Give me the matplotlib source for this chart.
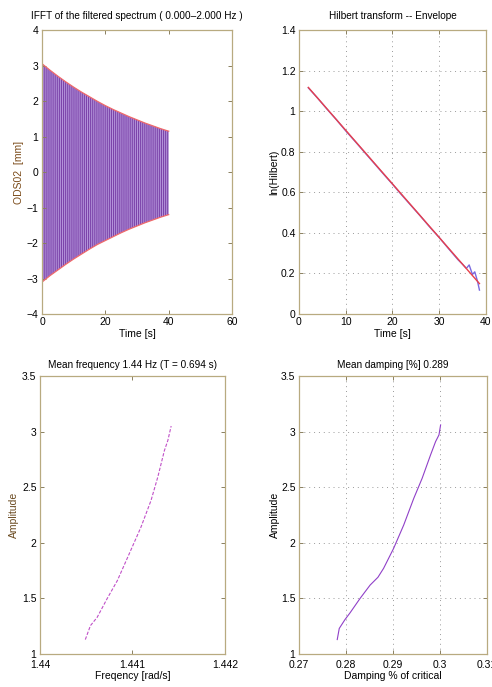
import numpy as np
import matplotlib
matplotlib.use("Agg")
import matplotlib.pyplot as plt

plt.rcParams['font.family'] = ['Liberation Sans', 'DejaVu Sans']
plt.rcParams['font.size'] = 7.5
plt.rcParams['hatch.linewidth'] = 0.8

# --- data ---
# envelope of the filtered signal (upper / lower)
env_t = [0, 2.5, 5, 7.5, 10, 12.5, 15, 17.5, 20, 22.5, 25, 27.5, 30, 32.5, 35, 37.5, 40]
env_up = [3.05, 2.87, 2.70, 2.54, 2.39, 2.25, 2.12, 1.99, 1.87, 1.76, 1.66, 1.56,
          1.47, 1.38, 1.30, 1.22, 1.15]
env_lo = [-3.10, -2.92, -2.76, -2.60, -2.45, -2.31, -2.17, -2.04, -1.93, -1.82, -1.71,
          -1.61, -1.52, -1.43, -1.35, -1.27, -1.20]

# ln of hilbert envelope
hil_t = [2.0, 4, 6, 8, 10, 12, 14, 16, 18, 20, 22, 24, 26, 28, 30, 32, 34,
         35, 35.8, 36.4, 37.1, 37.6, 38.2, 38.6]
hil_ln = [1.115, 1.064, 1.010, 0.958, 0.903, 0.851, 0.798, 0.745, 0.692, 0.640,
          0.586, 0.534, 0.482, 0.428, 0.377, 0.322, 0.268, 0.245, 0.225, 0.242,
          0.195, 0.208, 0.160, 0.118]
fit_t = [2.0, 38.6]
fit_ln = [1.117, 0.150]

# amplitude vs instantaneous frequency
freq = [1.44049, 1.440545, 1.440618, 1.440727, 1.440836, 1.440964, 1.441091,
        1.4412, 1.441273, 1.441345, 1.441382, 1.441418]
freq_amp = [1.13, 1.255, 1.33, 1.50, 1.66, 1.90, 2.14, 2.38, 2.59, 2.83, 2.92, 3.05]

# amplitude vs damping
damp = [0.27814, 0.27857, 0.27979, 0.28086, 0.283, 0.28514, 0.2868, 0.288, 0.29014,
        0.29229, 0.29443, 0.29621, 0.298, 0.29907, 0.29979, 0.30014]
damp_amp = [1.13, 1.23, 1.31, 1.37, 1.50, 1.62, 1.69, 1.77, 1.95, 2.16, 2.40, 2.58,
            2.79, 2.91, 2.97, 3.06]

frame_col = '#b8aa80'


def style(ax, grid=False):
    for s in ax.spines.values():
        s.set_color(frame_col)
        s.set_linewidth(0.9)
    ax.tick_params(direction='in', length=3, width=0.7, color='#8a8060',
                   top=True, right=True, labelsize=7.5, pad=2.5)
    if grid:
        ax.grid(True, color='#9a9a9a', linestyle=(0, (1, 4)), linewidth=0.7)


fig = plt.figure(figsize=(4.92, 6.87), dpi=100)

# top left: filtered signal
ax1 = fig.add_axes([0.0854, 0.5429, 0.3862, 0.4134])
ax1.fill_between(env_t, env_lo, env_up, facecolor='#b596dc', edgecolor='#7c44aa',
                 hatch='||||||||', linewidth=0)
ax1.plot(env_t, env_up, color='#f06a6a', lw=0.9)
ax1.plot(env_t, env_lo, color='#f06a6a', lw=0.9)
ax1.set_xlim(0, 60)
ax1.set_ylim(-4, 4)
ax1.set_xticks([0, 20, 40, 60])
ax1.set_yticks(range(-4, 5))
ax1.set_title('IFFT of the filtered spectrum ( 0.000\u20132.000 Hz )', fontsize=7.2, pad=8)
ax1.set_xlabel('Time [s]', labelpad=1)
ax1.set_ylabel('ODS02  [mm]', color='#7a4a18', labelpad=2)
style(ax1)

# top right: hilbert envelope
ax2 = fig.add_axes([0.6077, 0.5429, 0.3801, 0.4134])
ax2.plot(hil_t, hil_ln, color='#7a6ae0', lw=1.0)
ax2.plot(fit_t, fit_ln, color='#e8404a', lw=1.0)
ax2.set_xlim(0, 40)
ax2.set_ylim(0, 1.4)
ax2.set_xticks([0, 10, 20, 30, 40])
ax2.set_yticks([0, 0.2, 0.4, 0.6, 0.8, 1, 1.2, 1.4])
ax2.set_yticklabels(['0', '0.2', '0.4', '0.6', '0.8', '1', '1.2', '1.4'])
ax2.set_title('Hilbert transform -- Envelope', fontsize=7.2, pad=8)
ax2.set_xlabel('Time [s]', labelpad=1)
ax2.set_ylabel('ln(Hilbert)', labelpad=1)
style(ax2, grid=True)

# bottom left: amplitude vs frequency
ax3 = fig.add_axes([0.0813, 0.048, 0.376, 0.4047])
ax3.plot(freq, freq_amp, color='#c050c8', lw=0.8, linestyle=(0, (3, 1.5)))
ax3.set_xlim(1.44, 1.442)
ax3.set_ylim(1, 3.5)
ax3.set_xticks([1.44, 1.441, 1.442])
ax3.set_xticklabels(['1.44', '1.441', '1.442'])
ax3.set_yticks([1, 1.5, 2, 2.5, 3, 3.5])
ax3.set_yticklabels(['1', '1.5', '2', '2.5', '3', '3.5'])
ax3.set_title('Mean frequency 1.44 Hz (T = 0.694 s)', fontsize=7.2, pad=6)
ax3.set_xlabel('Freqency [rad/s]', labelpad=1)
ax3.set_ylabel('Amplitude', color='#6a4a20', labelpad=2)
style(ax3)
ax3.tick_params(axis='x', pad=4)

# bottom right: amplitude vs damping
ax4 = fig.add_axes([0.6077, 0.048, 0.382, 0.4047])
ax4.plot(damp, damp_amp, color='#9040c8', lw=0.8)
ax4.set_xlim(0.27, 0.31)
ax4.set_ylim(1, 3.5)
ax4.set_xticks([0.27, 0.28, 0.29, 0.30, 0.31])
ax4.set_xticklabels(['0.27', '0.28', '0.29', '0.3', '0.31'])
ax4.set_yticks([1, 1.5, 2, 2.5, 3, 3.5])
ax4.set_yticklabels(['1', '1.5', '2', '2.5', '3', '3.5'])
ax4.set_title('Mean damping [%] 0.289', fontsize=7.2, pad=6)
ax4.set_xlabel('Damping % of critical', labelpad=1)
ax4.set_ylabel('Amplitude', labelpad=1)
style(ax4, grid=True)
ax4.tick_params(axis='x', pad=4)

fig.savefig('out.png', dpi=100)
